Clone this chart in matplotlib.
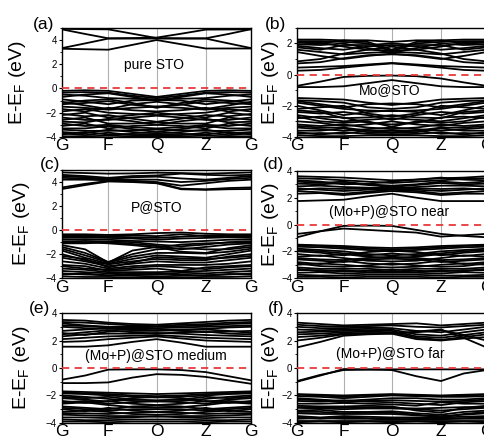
import numpy as np
import matplotlib.pyplot as plt
from matplotlib.ticker import MultipleLocator

plt.rcParams['font.family'] = ['Liberation Sans', 'DejaVu Sans']

# k-path: G, G-F, F, F-Q, Q, Q-Z, Z, Z-G, G
kpath = [0.0, 0.1225, 0.245, 0.3725, 0.5, 0.63, 0.76, 0.88, 1.0]
kticks = [0.0, 0.245, 0.5, 0.76, 1.0]
klabels = ['G', 'F', 'Q', 'Z', 'G']

# (a) pure STO
bands_a = [
    [3.28, 3.24, 3.2, 3.6, 4.0, 3.65, 3.3, 3.3, 3.3],
    [3.33, 3.72, 4.12, 4.12, 4.12, 4.12, 4.12, 3.72, 3.33],
    [4.88, 4.5, 4.14, 4.16, 4.2, 4.52, 4.86, 4.87, 4.88],
    [4.92, 4.9, 4.88, 4.52, 4.16, 4.14, 4.14, 4.5, 4.9],
    [-0.2, -0.15, -0.2, -0.45, -0.7, -0.45, -0.2, -0.15, -0.2],
    [-0.35, -0.3, -0.35, -0.6, -0.8, -0.6, -0.35, -0.3, -0.35],
    [-0.5, -0.6, -0.8, -0.85, -0.9, -0.85, -0.8, -0.6, -0.5],
    [-0.7, -0.5, -0.4, -0.7, -1.0, -0.7, -0.4, -0.5, -0.7],
    [-0.9, -1.1, -1.3, -1.0, -0.95, -1.0, -1.3, -1.1, -0.9],
    [-1.2, -1.0, -0.9, -1.2, -1.6, -1.2, -0.9, -1.0, -1.2],
    [-1.1, -1.4, -1.7, -1.3, -1.1, -1.3, -1.7, -1.4, -1.1],
    [-1.3, -1.2, -1.05, -1.35, -1.5, -1.35, -1.05, -1.2, -1.3],
    [-1.5, -1.6, -1.75, -1.6, -1.5, -1.6, -1.75, -1.6, -1.5],
    [-1.7, -1.9, -1.6, -1.8, -1.9, -1.8, -1.6, -1.9, -1.7],
    [-1.9, -1.7, -2.0, -2.1, -2.2, -2.1, -2.0, -1.7, -1.9],
    [-2.1, -2.3, -2.2, -2.5, -2.75, -2.5, -2.2, -2.3, -2.1],
    [-2.2, -2.0, -2.4, -2.2, -2.0, -2.2, -2.4, -2.0, -2.2],
    [-2.4, -2.6, -2.6, -2.4, -2.25, -2.4, -2.6, -2.6, -2.4],
    [-2.6, -2.4, -2.9, -2.9, -2.8, -2.9, -2.9, -2.4, -2.6],
    [-2.75, -2.8, -2.5, -2.7, -3.0, -2.7, -2.5, -2.8, -2.75],
    [-2.9, -3.1, -3.0, -3.2, -3.3, -3.2, -3.0, -3.1, -2.9],
    [-3.1, -2.9, -3.3, -3.1, -3.0, -3.1, -3.3, -2.9, -3.1],
    [-3.3, -3.3, -3.1, -3.35, -3.6, -3.35, -3.1, -3.3, -3.3],
    [-3.4, -3.5, -3.5, -3.45, -3.4, -3.45, -3.5, -3.5, -3.4],
    [-3.6, -3.7, -3.4, -3.6, -3.7, -3.6, -3.4, -3.7, -3.6],
    [-3.7, -3.85, -3.65, -3.85, -3.9, -3.85, -3.65, -3.85, -3.7],
    [-3.8, -3.6, -3.8, -3.75, -3.8, -3.75, -3.8, -3.6, -3.8],
    [-3.95, -3.95, -3.9, -3.95, -3.95, -3.95, -3.9, -3.95, -3.95],
]

# (b) Mo@STO
bands_b = [
    [2.25, 2.25, 2.2, 2.1, 1.6, 2.1, 2.2, 2.25, 2.25],
    [2.15, 2.15, 2.1, 2.0, 1.5, 2.0, 2.1, 2.15, 2.15],
    [2.1, 2.05, 1.8, 1.6, 1.55, 1.6, 1.8, 2.05, 2.1],
    [2.05, 2.0, 2.2, 2.2, 2.1, 2.2, 2.2, 2.0, 2.05],
    [1.95, 1.9, 2.0, 1.7, 1.4, 1.7, 2.0, 1.9, 1.95],
    [1.85, 1.7, 1.6, 1.8, 1.9, 1.8, 1.6, 1.7, 1.85],
    [1.75, 1.6, 1.9, 1.9, 2.0, 1.9, 1.9, 1.6, 1.75],
    [1.6, 1.45, 1.3, 1.4, 1.45, 1.4, 1.3, 1.45, 1.6],
    [1.45, 1.2, 1.0, 1.2, 1.35, 1.2, 1.0, 1.2, 1.45],
    [0.85, 1.0, 1.35, 1.6, 1.8, 1.6, 1.35, 1.0, 0.85],
    [0.72, 0.8, 1.05, 1.25, 1.3, 1.25, 1.05, 0.8, 0.72],
    [0.45, 0.5, 0.55, 0.65, 0.75, 0.65, 0.55, 0.5, 0.45],
    [0.25, 0.3, 0.45, 0.6, 0.72, 0.6, 0.45, 0.3, 0.25],
    [-0.72, -0.45, -0.15, -0.08, -0.06, -0.1, -0.25, -0.5, -0.72],
    [-0.8, -0.8, -0.75, -0.55, -0.35, -0.55, -0.75, -0.8, -0.8],
    [-1.5, -1.55, -1.6, -1.8, -1.95, -1.8, -1.6, -1.55, -1.5],
    [-1.65, -1.7, -1.8, -2.1, -2.2, -2.1, -1.8, -1.7, -1.65],
    [-1.7, -1.9, -2.1, -1.9, -1.85, -1.9, -2.1, -1.9, -1.7],
    [-1.8, -2.0, -2.2, -2.3, -2.35, -2.3, -2.2, -2.0, -1.8],
    [-2.0, -2.3, -2.6, -2.4, -2.3, -2.4, -2.6, -2.3, -2.0],
    [-2.2, -2.1, -2.0, -2.5, -2.7, -2.5, -2.0, -2.1, -2.2],
    [-2.3, -2.4, -2.8, -2.75, -2.6, -2.75, -2.8, -2.4, -2.3],
    [-2.4, -2.5, -2.4, -2.6, -2.9, -2.6, -2.4, -2.5, -2.4],
    [-2.6, -2.8, -3.0, -2.9, -2.8, -2.9, -3.0, -2.8, -2.6],
    [-2.7, -3.0, -3.1, -3.0, -3.35, -3.0, -3.1, -3.0, -2.7],
    [-2.8, -2.7, -2.75, -3.1, -3.2, -3.1, -2.75, -2.7, -2.8],
    [-3.0, -3.1, -3.3, -3.2, -3.0, -3.2, -3.3, -3.1, -3.0],
    [-3.2, -3.3, -3.2, -3.4, -3.5, -3.4, -3.2, -3.3, -3.2],
    [-3.3, -3.4, -3.4, -3.6, -3.6, -3.6, -3.4, -3.4, -3.3],
    [-3.4, -3.5, -3.6, -3.5, -3.4, -3.5, -3.6, -3.5, -3.4],
    [-3.6, -3.6, -3.45, -3.7, -3.75, -3.7, -3.45, -3.6, -3.6],
    [-3.7, -3.85, -3.7, -3.8, -3.85, -3.8, -3.7, -3.85, -3.7],
    [-3.8, -3.75, -3.8, -3.6, -3.7, -3.6, -3.8, -3.75, -3.8],
    [-3.9, -3.95, -3.95, -3.9, -3.9, -3.9, -3.95, -3.95, -3.9],
]

# (c) P@STO
bands_c = [
    [4.8, 4.75, 4.7, 4.72, 4.78, 4.75, 4.7, 4.75, 4.8],
    [4.6, 4.5, 4.35, 4.5, 4.55, 4.7, 4.6, 4.55, 4.6],
    [4.5, 4.4, 4.25, 4.4, 4.45, 4.3, 4.2, 4.35, 4.5],
    [4.35, 4.3, 4.2, 4.2, 4.2, 4.0, 4.1, 4.25, 4.35],
    [4.2, 4.2, 4.15, 4.1, 4.0, 3.7, 3.9, 4.1, 4.2],
    [3.55, 3.85, 4.1, 4.05, 3.95, 3.45, 3.4, 3.5, 3.55],
    [3.42, 3.75, 4.05, 4.0, 3.9, 3.4, 3.35, 3.4, 3.42],
    [-0.35, -0.35, -0.4, -0.35, -0.25, -0.2, -0.3, -0.35, -0.35],
    [-0.45, -0.45, -0.55, -0.6, -0.65, -0.55, -0.45, -0.45, -0.45],
    [-0.5, -0.5, -0.5, -0.45, -0.5, -0.35, -0.5, -0.5, -0.5],
    [-0.65, -0.6, -0.65, -0.7, -0.8, -0.7, -0.65, -0.6, -0.65],
    [-0.8, -0.75, -0.8, -0.9, -0.95, -1.0, -0.9, -0.8, -0.8],
    [-0.95, -0.9, -0.95, -1.0, -1.2, -1.35, -1.2, -1.0, -0.95],
    [-1.05, -1.0, -1.1, -1.25, -1.45, -1.2, -1.1, -1.05, -1.05],
    [-1.1, -1.1, -1.0, -1.15, -1.3, -1.6, -1.4, -1.2, -1.1],
    [-1.25, -1.6, -2.7, -1.7, -1.4, -1.8, -1.9, -1.5, -1.25],
    [-1.4, -1.9, -2.65, -2.0, -1.6, -1.5, -1.6, -1.6, -1.4],
    [-1.55, -2.1, -2.7, -2.2, -1.9, -1.9, -1.95, -1.8, -1.55],
    [-1.7, -2.3, -2.8, -2.4, -2.1, -2.2, -2.3, -2.0, -1.7],
    [-2.0, -2.5, -2.85, -2.6, -2.4, -2.5, -2.5, -2.2, -2.0],
    [-2.15, -2.4, -3.1, -2.7, -2.25, -2.35, -2.4, -2.3, -2.15],
    [-2.3, -2.6, -3.0, -2.8, -2.6, -2.7, -2.7, -2.5, -2.3],
    [-2.6, -2.8, -3.2, -3.0, -2.9, -2.9, -2.9, -2.8, -2.6],
    [-2.9, -3.0, -3.4, -3.3, -3.2, -3.4, -3.1, -3.0, -2.9],
    [-3.0, -3.2, -3.3, -3.15, -3.0, -3.1, -3.25, -3.1, -3.0],
    [-3.2, -3.3, -3.5, -3.5, -3.5, -3.45, -3.4, -3.3, -3.2],
    [-3.4, -3.5, -3.6, -3.7, -3.7, -3.55, -3.6, -3.5, -3.4],
    [-3.6, -3.7, -3.75, -3.8, -3.85, -3.8, -3.75, -3.7, -3.6],
    [-3.7, -3.6, -3.8, -3.6, -3.6, -3.7, -3.8, -3.65, -3.7],
    [-3.85, -3.9, -3.9, -3.95, -3.95, -3.95, -3.9, -3.9, -3.85],
]

# (d) (Mo+P)@STO near
bands_d = [
    [3.6, 3.55, 3.5, 3.4, 3.3, 3.35, 3.45, 3.5, 3.6],
    [3.45, 3.4, 3.3, 3.2, 3.1, 3.2, 3.3, 3.4, 3.45],
    [3.3, 3.2, 3.0, 3.05, 3.2, 3.35, 3.5, 3.35, 3.3],
    [3.2, 3.1, 3.2, 3.0, 2.9, 3.0, 3.2, 3.1, 3.2],
    [3.05, 3.0, 3.1, 2.95, 2.8, 2.95, 3.1, 3.0, 3.05],
    [2.85, 2.9, 2.8, 2.75, 2.7, 2.8, 2.9, 2.9, 2.85],
    [2.7, 2.6, 2.5, 2.6, 2.65, 2.6, 2.5, 2.6, 2.7],
    [2.6, 2.7, 2.65, 2.7, 2.75, 2.7, 2.65, 2.7, 2.6],
    [2.5, 2.4, 2.3, 2.45, 2.6, 2.5, 2.3, 2.4, 2.5],
    [2.3, 2.35, 2.2, 2.35, 2.5, 2.4, 2.2, 2.3, 2.3],
    [1.75, 1.8, 1.85, 2.1, 2.3, 2.0, 1.75, 1.75, 1.75],
    [-0.95, -0.5, -0.1, -0.08, -0.1, -0.4, -0.7, -0.85, -0.95],
    [-0.7, -0.5, -0.3, -0.4, -0.5, -0.6, -0.9, -0.8, -0.7],
    [-1.5, -1.55, -1.6, -1.7, -1.75, -1.7, -1.6, -1.55, -1.5],
    [-1.55, -1.6, -1.7, -1.8, -1.85, -1.8, -1.7, -1.6, -1.55],
    [-1.65, -1.7, -1.8, -1.9, -2.0, -1.9, -1.8, -1.7, -1.65],
    [-1.8, -1.9, -2.0, -2.2, -2.3, -2.2, -2.0, -1.9, -1.8],
    [-1.9, -2.0, -2.15, -2.3, -2.15, -2.3, -2.15, -2.0, -1.9],
    [-2.0, -2.1, -2.3, -2.05, -1.95, -2.05, -2.3, -2.1, -2.0],
    [-2.2, -2.35, -2.2, -2.4, -2.5, -2.4, -2.2, -2.35, -2.2],
    [-2.4, -2.3, -2.5, -2.7, -2.75, -2.7, -2.5, -2.3, -2.4],
    [-2.5, -2.6, -2.65, -2.5, -2.4, -2.5, -2.65, -2.6, -2.5],
    [-2.6, -2.7, -2.8, -2.6, -2.55, -2.6, -2.8, -2.7, -2.6],
    [-2.8, -2.95, -2.7, -2.9, -3.0, -2.9, -2.7, -2.95, -2.8],
    [-2.9, -3.1, -3.15, -3.05, -2.9, -3.05, -3.15, -3.1, -2.9],
    [-3.0, -2.9, -3.0, -3.15, -3.2, -3.15, -3.0, -2.9, -3.0],
    [-3.2, -3.3, -3.3, -3.3, -3.4, -3.3, -3.3, -3.3, -3.2],
    [-3.3, -3.5, -3.4, -3.55, -3.5, -3.55, -3.4, -3.5, -3.3],
    [-3.4, -3.4, -3.5, -3.45, -3.35, -3.45, -3.5, -3.4, -3.4],
    [-3.6, -3.55, -3.65, -3.6, -3.6, -3.6, -3.65, -3.55, -3.6],
    [-3.75, -3.8, -3.8, -3.75, -3.75, -3.75, -3.8, -3.8, -3.75],
    [-3.9, -3.9, -3.95, -3.9, -3.9, -3.9, -3.95, -3.9, -3.9],
]

# (e) (Mo+P)@STO medium
bands_e = [
    [3.5, 3.45, 3.3, 3.2, 3.15, 3.25, 3.35, 3.45, 3.5],
    [3.35, 3.3, 3.2, 3.1, 3.05, 3.15, 3.2, 3.3, 3.35],
    [3.25, 3.1, 3.0, 3.0, 3.0, 3.05, 3.1, 3.2, 3.25],
    [3.1, 3.05, 2.95, 2.95, 2.9, 2.95, 3.0, 3.05, 3.1],
    [3.0, 2.9, 2.85, 2.8, 2.75, 2.8, 2.85, 2.95, 3.0],
    [2.7, 2.8, 2.9, 2.9, 2.85, 2.7, 2.6, 2.65, 2.7],
    [2.55, 2.4, 2.65, 2.7, 2.7, 2.75, 2.8, 2.7, 2.55],
    [2.45, 2.6, 2.75, 2.6, 2.5, 2.6, 2.65, 2.5, 2.45],
    [2.3, 2.45, 2.5, 2.5, 2.55, 2.5, 2.4, 2.35, 2.3],
    [2.1, 2.2, 2.3, 2.35, 2.4, 2.3, 2.2, 2.15, 2.1],
    [1.9, 1.95, 2.1, 2.2, 2.3, 2.15, 2.0, 1.95, 1.9],
    [1.55, 1.55, 1.65, 1.9, 2.1, 1.85, 1.55, 1.55, 1.55],
    [-0.85, -0.55, -0.12, -0.1, -0.1, -0.15, -0.3, -0.6, -0.9],
    [-1.1, -1.1, -1.05, -0.7, -0.45, -0.5, -0.65, -0.9, -1.15],
    [-1.7, -1.75, -1.8, -1.85, -1.9, -1.85, -1.8, -1.75, -1.7],
    [-1.75, -1.85, -1.9, -2.0, -2.05, -2.0, -1.9, -1.85, -1.75],
    [-1.85, -1.9, -2.0, -2.1, -2.15, -2.1, -2.0, -1.9, -1.85],
    [-2.0, -2.1, -2.25, -2.4, -2.45, -2.4, -2.25, -2.1, -2.0],
    [-2.1, -2.2, -2.1, -2.3, -2.35, -2.3, -2.1, -2.2, -2.1],
    [-2.2, -2.3, -2.45, -2.2, -2.1, -2.2, -2.45, -2.3, -2.2],
    [-2.4, -2.55, -2.4, -2.6, -2.7, -2.6, -2.4, -2.55, -2.4],
    [-2.5, -2.4, -2.6, -2.5, -2.4, -2.5, -2.6, -2.4, -2.5],
    [-2.6, -2.5, -2.7, -2.85, -2.9, -2.85, -2.7, -2.5, -2.6],
    [-2.8, -2.9, -3.0, -2.8, -2.75, -2.8, -3.0, -2.9, -2.8],
    [-2.9, -3.0, -3.1, -3.0, -3.0, -3.0, -3.1, -3.0, -2.9],
    [-3.0, -3.15, -2.9, -3.1, -3.2, -3.1, -2.9, -3.15, -3.0],
    [-3.2, -3.1, -3.2, -3.35, -3.4, -3.35, -3.2, -3.1, -3.2],
    [-3.3, -3.3, -3.35, -3.25, -3.2, -3.25, -3.35, -3.3, -3.3],
    [-3.4, -3.45, -3.5, -3.5, -3.55, -3.5, -3.5, -3.45, -3.4],
    [-3.6, -3.6, -3.65, -3.6, -3.5, -3.6, -3.65, -3.6, -3.6],
    [-3.75, -3.8, -3.8, -3.75, -3.75, -3.75, -3.8, -3.8, -3.75],
    [-3.9, -3.9, -3.95, -3.9, -3.9, -3.9, -3.95, -3.9, -3.9],
]

# (f) (Mo+P)@STO far
bands_f = [
    [3.3, 3.2, 3.1, 3.15, 3.2, 3.25, 3.1, 3.2, 3.3],
    [3.15, 3.05, 3.0, 3.05, 3.1, 3.0, 2.95, 3.05, 3.15],
    [3.0, 2.9, 2.9, 2.95, 2.9, 2.7, 2.6, 2.8, 3.0],
    [2.8, 2.75, 2.8, 2.85, 2.8, 2.45, 2.35, 2.6, 2.8],
    [2.6, 2.65, 2.7, 2.75, 2.7, 2.3, 2.2, 2.4, 2.6],
    [2.45, 2.5, 2.6, 2.65, 2.6, 2.2, 2.05, 2.25, 2.45],
    [2.25, 2.35, 2.5, 2.55, 2.5, 2.1, 2.0, 2.15, 2.25],
    [2.0, 2.2, 2.45, 2.5, 2.55, 2.6, 2.75, 2.4, 2.0],
    [1.5, 1.9, 2.35, 2.45, 2.5, 2.65, 2.8, 2.2, 1.5],
    [-1.0, -0.55, -0.08, -0.1, -0.15, -0.6, -0.95, -0.4, -0.15],
    [-0.95, -0.5, -0.15, -0.12, -0.1, -0.1, -0.1, -0.1, -0.1],
    [-1.9, -1.95, -2.0, -1.95, -1.9, -1.95, -2.0, -1.95, -1.9],
    [-1.95, -2.0, -2.1, -2.0, -1.95, -2.0, -2.05, -2.0, -1.95],
    [-2.05, -2.1, -2.2, -2.1, -2.0, -2.05, -2.1, -2.1, -2.05],
    [-2.2, -2.3, -2.4, -2.3, -2.2, -2.2, -2.3, -2.3, -2.2],
    [-2.3, -2.35, -2.5, -2.4, -2.35, -2.4, -2.45, -2.4, -2.3],
    [-2.4, -2.45, -2.35, -2.45, -2.5, -2.6, -2.7, -2.5, -2.4],
    [-2.6, -2.6, -2.55, -2.6, -2.65, -2.75, -2.5, -2.6, -2.6],
    [-2.75, -2.8, -2.8, -2.75, -2.8, -3.1, -3.25, -2.9, -2.75],
    [-2.85, -2.9, -2.9, -2.85, -2.9, -2.95, -2.9, -2.85, -2.85],
    [-2.9, -2.95, -3.0, -2.95, -2.95, -3.0, -3.1, -3.0, -2.9],
    [-3.1, -3.05, -3.2, -3.2, -3.15, -3.3, -3.4, -3.2, -3.1],
    [-3.2, -3.2, -3.3, -3.25, -3.25, -3.4, -3.6, -3.35, -3.2],
    [-3.3, -3.35, -3.35, -3.35, -3.35, -3.45, -3.5, -3.4, -3.3],
    [-3.5, -3.6, -3.5, -3.55, -3.6, -3.6, -3.6, -3.55, -3.5],
    [-3.6, -3.7, -3.6, -3.65, -3.7, -3.75, -3.75, -3.65, -3.6],
    [-3.7, -3.65, -3.7, -3.7, -3.75, -3.7, -3.7, -3.7, -3.7],
    [-3.85, -3.85, -3.85, -3.85, -3.85, -3.85, -3.85, -3.85, -3.85],
    [-3.95, -3.9, -3.95, -3.9, -3.95, -3.9, -3.95, -3.9, -3.95],
]

panels = [
    ('(a)', 'pure STO', bands_a, (-4, 5), 1.9),
    ('(b)', 'Mo@STO', bands_b, (-4, 3), -1.0),
    ('(c)', 'P@STO', bands_c, (-4, 5), 1.9),
    ('(d)', '(Mo+P)@STO near', bands_d, (-4, 4), 0.9),
    ('(e)', '(Mo+P)@STO medium', bands_e, (-4, 4), 0.9),
    ('(f)', '(Mo+P)@STO far', bands_f, (-4, 4), 1.0),
]

rects = [
    [0.128, 0.686, 0.391, 0.250],
    [0.614, 0.686, 0.391, 0.250],
    [0.128, 0.362, 0.391, 0.248],
    [0.614, 0.362, 0.391, 0.246],
    [0.128, 0.030, 0.391, 0.252],
    [0.614, 0.030, 0.391, 0.252],
]
tag_xy = [(44, 24), (276, 24), (50, 164), (273, 165), (40, 308), (276, 308)]
ylab_x = [-0.18, -0.088, -0.159, -0.085, -0.159, -0.085]
text_x = [0.487, 0.487, 0.503, 0.487, 0.497, 0.49]

fig = plt.figure(figsize=(4.84, 4.36), dpi=100)

for i, (tag, name, bands, ylim, ty) in enumerate(panels):
    ax = fig.add_axes(rects[i])
    for b in bands:
        ax.plot(kpath, b, color='black', lw=1.3)
    for k in kticks[1:-1]:
        ax.axvline(k, color='#b0b0b0', lw=0.8, zorder=0)
    ax.axhline(0, color='#e8383a', lw=1.3, ls=(0, (4, 3)), zorder=3)
    ax.set_xlim(0, 1)
    ax.set_ylim(*ylim)
    ax.set_xticks(kticks)
    ax.set_xticklabels(klabels, fontsize=12.5)
    ax.tick_params(axis='x', length=0, pad=1)
    ax.set_yticks(np.arange(-4, ylim[1] + 0.1, 2))
    ax.yaxis.set_minor_locator(MultipleLocator(1))
    ax.tick_params(axis='y', which='major', labelsize=7, length=2.5, width=0.8, pad=1)
    ax.tick_params(axis='y', which='minor', length=1.5, width=0.6)
    for s in ax.spines.values():
        s.set_linewidth(1.0)
    ax.set_ylabel('E-E$_\\mathregular{F}$ (eV)', fontsize=14)
    ax.yaxis.set_label_coords(ylab_x[i], 0.5)
    ax.text(text_x[i], ty, name, fontsize=10, ha='center', va='center',
            transform=ax.get_yaxis_transform(), zorder=4)
    fig.text(tag_xy[i][0] / 484, 1 - tag_xy[i][1] / 436, tag, fontsize=12.5,
             ha='center', va='center')

fig.savefig('out.png', dpi=100)
